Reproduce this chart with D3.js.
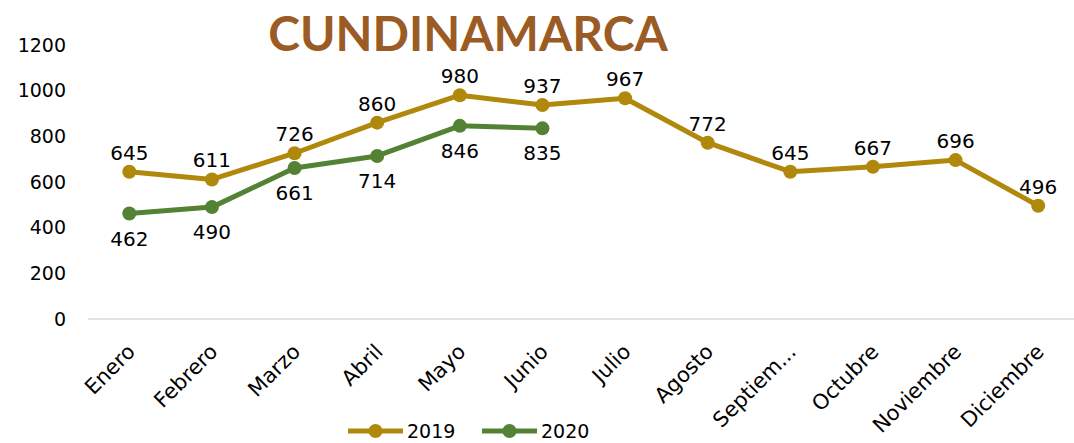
<!DOCTYPE html>
<html><head><meta charset="utf-8">
<script src="https://cdn.jsdelivr.net/npm/d3@7"></script>
<style>body{margin:0;background:#fff;} svg{display:block;}</style>
</head><body>
<svg id="c" width="1074" height="443"></svg>
<script>
const months = ["Enero","Febrero","Marzo","Abril","Mayo","Junio","Julio","Agosto","Septiem...","Octubre","Noviembre","Diciembre"];
const values2019 = [645,611,726,860,980,937,967,772,645,667,696,496];
const values2020 = [462,490,661,714,846,835];
const yTicks = [0,200,400,600,800,1000,1200];
const seriesNames = ["2019","2020"];
const colors = ["#b0880c","#548235"];

const svg = d3.select("#c");
const font = "'DejaVu Sans', sans-serif";
const titleFont = "Lato, sans-serif";
svg.append("rect").attr("width",1074).attr("height",443).attr("fill","#fff");

const x = d3.scaleBand().domain(months).range([88,1079.5]);
const y = d3.scaleLinear().domain([0,1200]).range([319,45]);

// zero line
svg.append("line").attr("x1",88).attr("x2",1074).attr("y1",y(0)).attr("y2",y(0))
  .attr("stroke","#d9d9d9").attr("stroke-width",1.5);

// y axis
const ya = svg.append("g").attr("transform","translate(66,0)")
  .call(d3.axisLeft(y).tickValues(yTicks).tickFormat(d3.format("d")).tickSize(0).tickPadding(0));
ya.select(".domain").remove();
ya.selectAll("text").attr("font-family",font).attr("font-size",19).attr("fill","#000");

// x axis
const xa = svg.append("g").attr("transform",`translate(0,${y(0)})`)
  .call(d3.axisBottom(x).tickSize(0).tickPadding(0));
xa.select(".domain").remove();
xa.selectAll("text").attr("font-family",font).attr("font-size",21).attr("fill","#000")
  .attr("text-anchor","end").attr("dy",0)
  .attr("transform","translate(7,34) rotate(-45)");

// title
svg.append("text").attr("x",468).attr("y",51).attr("text-anchor","middle")
  .attr("font-family",titleFont).attr("font-weight","bold").attr("font-size",48)
  .attr("fill","#9b5b25").text("CUNDINAMARCA");

const cx = d => x(d) + x.bandwidth()/2;
const line = d3.line().x((d,i)=>cx(months[i])).y(d=>y(d));

[values2019, values2020].forEach((vals,si)=>{
  svg.append("path").datum(vals).attr("d",line).attr("fill","none")
    .attr("stroke",colors[si]).attr("stroke-width",5).attr("stroke-linejoin","round");
  svg.selectAll(null).data(vals).enter().append("circle")
    .attr("cx",(d,i)=>cx(months[i])).attr("cy",d=>y(d)).attr("r",7).attr("fill",colors[si]);
  svg.selectAll(null).data(vals).enter().append("text")
    .attr("x",(d,i)=>cx(months[i])).attr("y",d=> si===0 ? y(d)-12 : y(d)+32)
    .attr("text-anchor","middle").attr("font-family",font).attr("font-size",20).attr("fill","#000")
    .text(d=>d);
});

// legend
const leg = [{x:348,name:seriesNames[0],c:colors[0]},{x:482,name:seriesNames[1],c:colors[1]}];
leg.forEach(l=>{
  svg.append("line").attr("x1",l.x).attr("x2",l.x+55).attr("y1",431).attr("y2",431)
    .attr("stroke",l.c).attr("stroke-width",5);
  svg.append("circle").attr("cx",l.x+27.5).attr("cy",431).attr("r",7).attr("fill",l.c);
  svg.append("text").attr("x",l.x+59).attr("y",438).attr("font-family",font).attr("font-size",19)
    .attr("fill","#000").text(l.name);
});
</script>
</body></html>
